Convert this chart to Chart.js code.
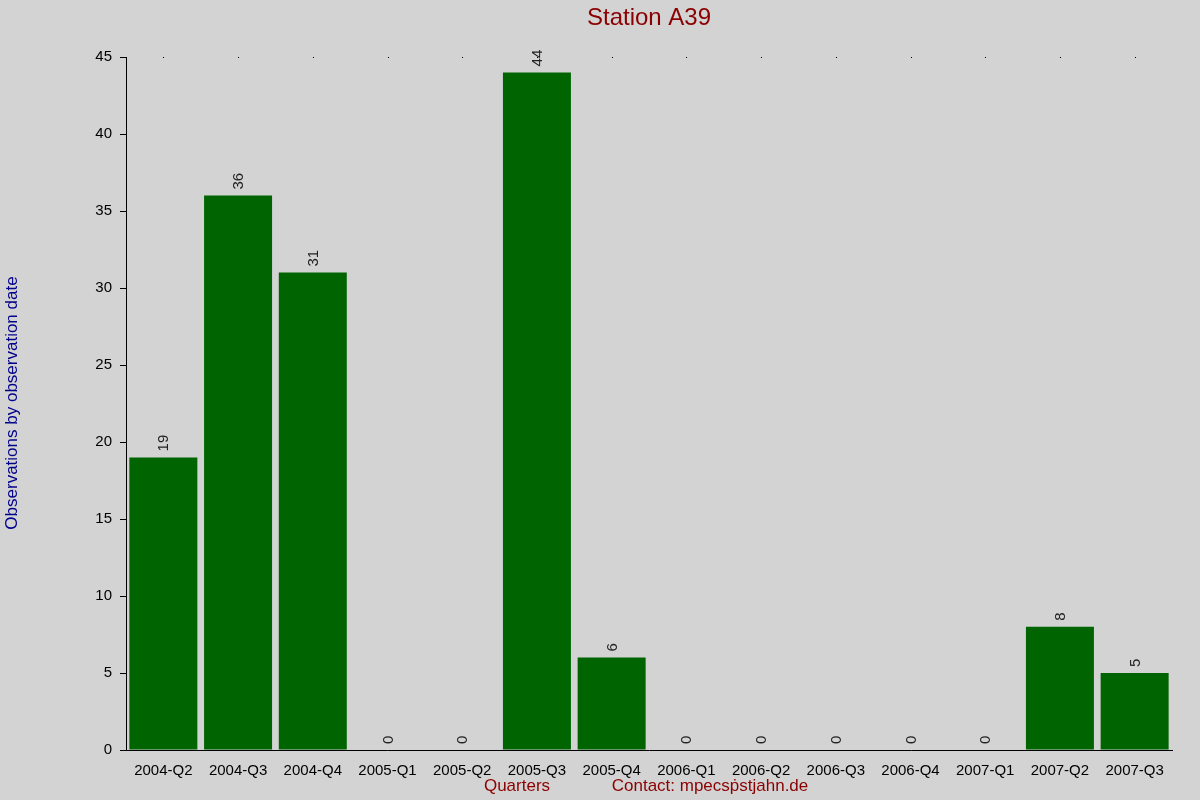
<!DOCTYPE html>
<html><head><script src="https://cdn.jsdelivr.net/npm/chart.js@4"></script>
<style>body{margin:0;background:#d3d3d3}</style></head>
<body><canvas id="c" width="1200" height="800"></canvas>
<script>
const categories=["2004-Q2","2004-Q3","2004-Q4","2005-Q1","2005-Q2","2005-Q3","2005-Q4","2006-Q1","2006-Q2","2006-Q3","2006-Q4","2007-Q1","2007-Q2","2007-Q3"];
const values=[19,36,31,0,0,44,6,0,0,0,0,0,8,5];
const yTicks=[0,5,10,15,20,25,30,35,40,45];
const F='"Liberation Sans", Arial, sans-serif';
const deco={id:'deco',
 beforeDraw(c){const x=c.ctx;x.save();x.fillStyle='#d3d3d3';x.fillRect(0,0,c.width,c.height);x.restore();},
 afterDraw(c){const x=c.ctx,a=c.chartArea,xs=c.scales.x,ys=c.scales.y;x.save();
  x.fillStyle='#000';const yt=ys.getPixelForValue(45);
  categories.forEach((k,i)=>{x.fillRect(Math.round(xs.getPixelForValue(i)),Math.round(yt),1,1);});
  x.font='15px '+F;x.fillStyle='#222';
  const m=c.getDatasetMeta(0);
  m.data.forEach((b,i)=>{x.save();x.translate(b.x+5,b.y-6);x.rotate(-Math.PI/2);x.textAlign='left';x.textBaseline='alphabetic';x.fillText(String(values[i]),0,0);x.restore();});
  x.fillStyle='#8b0000';x.font='24px '+F;x.textAlign='center';x.textBaseline='middle';x.fillText('Station A39',649,18);
  x.font='17px '+F;x.fillText('Quarters',517,786);x.fillText('Contact: mpecsṗstjahn.de',710,786);
  x.fillStyle='#00008b';x.translate(12,403);x.rotate(-Math.PI/2);x.fillText('Observations by observation date',0,0);
  x.restore();}};
new Chart(document.getElementById('c'),{type:'bar',
 data:{labels:categories,datasets:[{data:values,backgroundColor:'#006400',barPercentage:0.91,categoryPercentage:1}]},
 options:{responsive:false,animation:false,devicePixelRatio:1,
  layout:{padding:{left:0,right:28,top:57,bottom:0}},
  plugins:{legend:{display:false},tooltip:{enabled:false}},
  scales:{
   x:{grid:{display:false},border:{color:'#000',width:1},ticks:{color:'#000',font:{size:15,family:F},maxRotation:0,padding:4},afterFit(s){s.height=50;}},
   y:{min:0,max:45,afterBuildTicks(s){s.ticks=yTicks.map(v=>({value:v}));},
      grid:{drawOnChartArea:false,drawTicks:true,tickLength:6,color:'#000'},border:{color:'#000',width:1},
      ticks:{color:'#000',font:{size:15,family:F},padding:8},afterFit(s){s.width=126;}}
  }},plugins:[deco]});
</script></body></html>
